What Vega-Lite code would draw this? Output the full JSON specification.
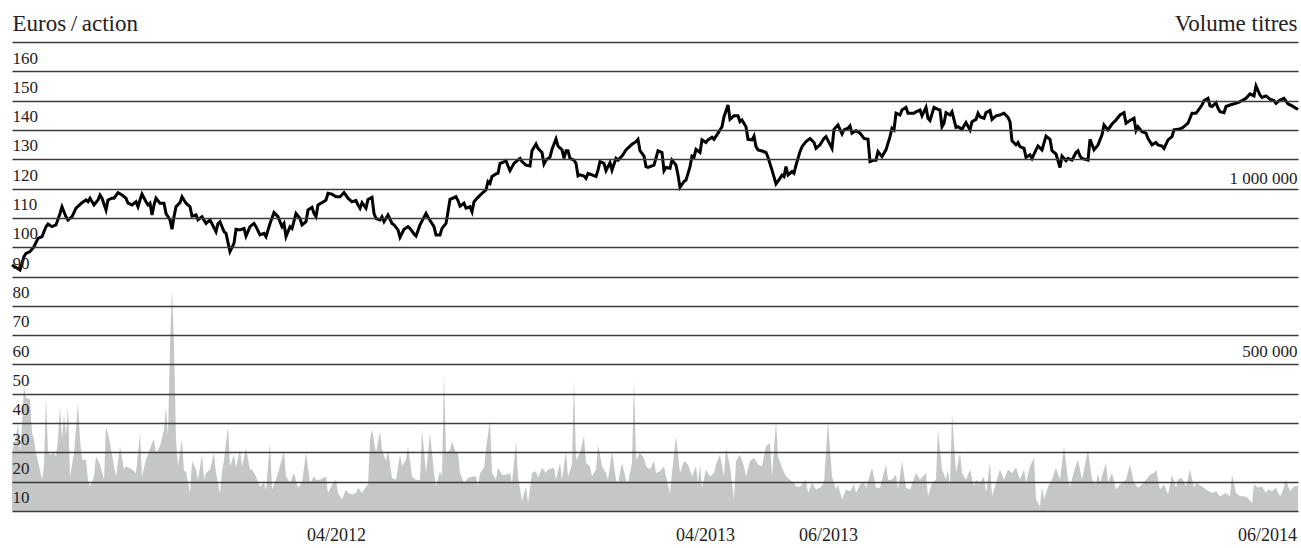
{
  "$schema": "https://vega.github.io/schema/vega-lite/v6.json",
  "width": 1286,
  "height": 469,
  "autosize": {"type": "none"},
  "padding": {"left": 12, "top": 42, "right": 3, "bottom": 37},
  "background": "white",
  "config": {"view": {"stroke": null}, "font": "Liberation Serif"},
  "datasets": {
    "cours": [
      {"jour":0,"cours":83.9},{"jour":4,"cours":82.2},{"jour":6,"cours":86.8},{"jour":7,"cours":87.9},{"jour":9,"cours":88.5},{"jour":11,"cours":90.2},{"jour":13,"cours":93},{"jour":15,"cours":93.6},{"jour":17,"cours":97},{"jour":18,"cours":97.9},{"jour":20,"cours":97},{"jour":22,"cours":97.6},{"jour":24,"cours":101.5},{"jour":25,"cours":103.8},{"jour":27,"cours":100.4},{"jour":28,"cours":99.3},{"jour":30,"cours":100.4},{"jour":32,"cours":103.3},{"jour":35,"cours":105.2},{"jour":37,"cours":106.1},{"jour":38,"cours":105.5},{"jour":39,"cours":106.7},{"jour":41,"cours":104.4},{"jour":43,"cours":106.1},{"jour":44,"cours":107.8},{"jour":45,"cours":106.7},{"jour":47,"cours":102.7},{"jour":48,"cours":106.1},{"jour":50,"cours":106.7},{"jour":51,"cours":106.7},{"jour":53,"cours":108.6},{"jour":55,"cours":107.8},{"jour":57,"cours":106.7},{"jour":58,"cours":105},{"jour":60,"cours":104.4},{"jour":62,"cours":105.5},{"jour":63,"cours":103.8},{"jour":64,"cours":106.1},{"jour":65,"cours":108.1},{"jour":67,"cours":105.5},{"jour":68,"cours":104.4},{"jour":69,"cours":105},{"jour":70,"cours":101},{"jour":71,"cours":104.4},{"jour":72,"cours":106.7},{"jour":74,"cours":105},{"jour":76,"cours":105},{"jour":77,"cours":101.5},{"jour":79,"cours":99.3},{"jour":80,"cours":96.1},{"jour":81,"cours":100.4},{"jour":82,"cours":103.8},{"jour":84,"cours":105.2},{"jour":85,"cours":107.2},{"jour":86,"cours":106.1},{"jour":87,"cours":105},{"jour":89,"cours":103.8},{"jour":90,"cours":100.6},{"jour":92,"cours":101},{"jour":93,"cours":99.3},{"jour":95,"cours":100.4},{"jour":97,"cours":98.1},{"jour":99,"cours":99.3},{"jour":102,"cours":95.3},{"jour":103,"cours":98.1},{"jour":104,"cours":98.7},{"jour":106,"cours":95.3},{"jour":107,"cours":94.7},{"jour":109,"cours":88.5},{"jour":111,"cours":91.3},{"jour":112,"cours":96.1},{"jour":114,"cours":95.9},{"jour":116,"cours":96.4},{"jour":117,"cours":93.8},{"jour":119,"cours":97},{"jour":121,"cours":98.1},{"jour":122,"cours":97},{"jour":124,"cours":94.2},{"jour":126,"cours":94.7},{"jour":127,"cours":93.6},{"jour":129,"cours":98.1},{"jour":131,"cours":101.8},{"jour":133,"cours":100.4},{"jour":135,"cours":97},{"jour":136,"cours":98.1},{"jour":137,"cours":93.6},{"jour":139,"cours":97},{"jour":140,"cours":96.4},{"jour":142,"cours":101.5},{"jour":144,"cours":99.8},{"jour":145,"cours":97.6},{"jour":147,"cours":98.7},{"jour":148,"cours":102.7},{"jour":150,"cours":103.6},{"jour":151,"cours":101.5},{"jour":152,"cours":100.4},{"jour":153,"cours":104.4},{"jour":155,"cours":105.2},{"jour":157,"cours":106.1},{"jour":158,"cours":108.4},{"jour":160,"cours":108.1},{"jour":162,"cours":107.2},{"jour":164,"cours":107.2},{"jour":166,"cours":108.6},{"jour":168,"cours":106.7},{"jour":170,"cours":105.5},{"jour":172,"cours":105.9},{"jour":173,"cours":104.4},{"jour":174,"cours":103.3},{"jour":175,"cours":105.2},{"jour":177,"cours":103.3},{"jour":178,"cours":106.3},{"jour":180,"cours":107},{"jour":181,"cours":101.5},{"jour":182,"cours":99.8},{"jour":184,"cours":99.3},{"jour":185,"cours":100.4},{"jour":186,"cours":98.7},{"jour":188,"cours":101},{"jour":190,"cours":98.1},{"jour":191,"cours":97.6},{"jour":193,"cours":95.9},{"jour":194,"cours":93.4},{"jour":196,"cours":96.1},{"jour":198,"cours":97},{"jour":199,"cours":96.4},{"jour":201,"cours":94.5},{"jour":202,"cours":93.8},{"jour":204,"cours":97.6},{"jour":207,"cours":101.5},{"jour":208,"cours":100.2},{"jour":210,"cours":98.1},{"jour":211,"cours":97},{"jour":212,"cours":94.2},{"jour":214,"cours":94.2},{"jour":215,"cours":96.4},{"jour":217,"cours":98.1},{"jour":218,"cours":102.1},{"jour":219,"cours":106.3},{"jour":222,"cours":107.2},{"jour":223,"cours":105.9},{"jour":224,"cours":104},{"jour":226,"cours":105},{"jour":227,"cours":103.3},{"jour":229,"cours":103.8},{"jour":230,"cours":102.1},{"jour":231,"cours":105.5},{"jour":233,"cours":107},{"jour":235,"cours":108.4},{"jour":237,"cours":109.5},{"jour":238,"cours":112.4},{"jour":239,"cours":111.8},{"jour":240,"cours":114.1},{"jour":242,"cours":115},{"jour":243,"cours":115.2},{"jour":244,"cours":118.6},{"jour":245,"cours":118.8},{"jour":247,"cours":119.5},{"jour":248,"cours":117.7},{"jour":249,"cours":116.1},{"jour":251,"cours":118.6},{"jour":252,"cours":119.2},{"jour":254,"cours":120.3},{"jour":255,"cours":119.2},{"jour":257,"cours":118},{"jour":259,"cours":117.7},{"jour":260,"cours":122.9},{"jour":262,"cours":125.2},{"jour":263,"cours":123.7},{"jour":265,"cours":122.3},{"jour":266,"cours":118.4},{"jour":267,"cours":119.7},{"jour":269,"cours":120.7},{"jour":270,"cours":123.4},{"jour":272,"cours":126.9},{"jour":273,"cours":124.5},{"jour":275,"cours":123.2},{"jour":276,"cours":120.3},{"jour":277,"cours":122.9},{"jour":278,"cours":122.9},{"jour":279,"cours":120.3},{"jour":281,"cours":119.7},{"jour":282,"cours":118.6},{"jour":283,"cours":114.3},{"jour":284,"cours":114.7},{"jour":286,"cours":114.3},{"jour":287,"cours":113.5},{"jour":288,"cours":115.2},{"jour":290,"cours":114.7},{"jour":292,"cours":114.1},{"jour":293,"cours":116.3},{"jour":294,"cours":119.2},{"jour":296,"cours":118.6},{"jour":297,"cours":116.1},{"jour":299,"cours":118.8},{"jour":300,"cours":116.3},{"jour":302,"cours":120.3},{"jour":303,"cours":119.7},{"jour":305,"cours":121.1},{"jour":307,"cours":123.2},{"jour":310,"cours":125.1},{"jour":312,"cours":126},{"jour":313,"cours":126.8},{"jour":314,"cours":122.9},{"jour":316,"cours":121.1},{"jour":317,"cours":117.5},{"jour":318,"cours":117.2},{"jour":321,"cours":118},{"jour":323,"cours":122.9},{"jour":325,"cours":122.3},{"jour":326,"cours":116.1},{"jour":327,"cours":117.2},{"jour":329,"cours":116.9},{"jour":330,"cours":119.7},{"jour":332,"cours":118},{"jour":333,"cours":114.6},{"jour":334,"cours":110.4},{"jour":336,"cours":112.4},{"jour":337,"cours":112.9},{"jour":339,"cours":117.5},{"jour":340,"cours":121.1},{"jour":341,"cours":120.7},{"jour":342,"cours":123.4},{"jour":344,"cours":122.3},{"jour":345,"cours":126.6},{"jour":347,"cours":125.7},{"jour":348,"cours":126.6},{"jour":350,"cours":127.5},{"jour":351,"cours":126.8},{"jour":353,"cours":128.9},{"jour":355,"cours":131.1},{"jour":356,"cours":134.5},{"jour":358,"cours":138.5},{"jour":359,"cours":133.6},{"jour":361,"cours":134.8},{"jour":363,"cours":134.8},{"jour":364,"cours":132.8},{"jour":365,"cours":133.4},{"jour":367,"cours":131.1},{"jour":368,"cours":126.8},{"jour":370,"cours":126.6},{"jour":371,"cours":127.9},{"jour":372,"cours":124.3},{"jour":373,"cours":123.2},{"jour":375,"cours":122.8},{"jour":377,"cours":122.3},{"jour":378,"cours":120.7},{"jour":380,"cours":116.3},{"jour":382,"cours":111.6},{"jour":384,"cours":113.5},{"jour":385,"cours":114.6},{"jour":386,"cours":114.1},{"jour":387,"cours":117.5},{"jour":388,"cours":114.6},{"jour":390,"cours":115.8},{"jour":391,"cours":115.2},{"jour":392,"cours":118},{"jour":394,"cours":122.6},{"jour":395,"cours":124.3},{"jour":397,"cours":126},{"jour":399,"cours":127.1},{"jour":401,"cours":125.7},{"jour":402,"cours":123.7},{"jour":404,"cours":124.9},{"jour":406,"cours":127.1},{"jour":407,"cours":127.7},{"jour":410,"cours":123.7},{"jour":411,"cours":130.2},{"jour":413,"cours":131.7},{"jour":415,"cours":128.6},{"jour":416,"cours":130},{"jour":418,"cours":130.6},{"jour":419,"cours":131.4},{"jour":420,"cours":128.9},{"jour":422,"cours":129.8},{"jour":424,"cours":128.9},{"jour":426,"cours":127.1},{"jour":428,"cours":126.8},{"jour":429,"cours":119.2},{"jour":431,"cours":119.7},{"jour":432,"cours":119.7},{"jour":433,"cours":122.6},{"jour":435,"cours":120.9},{"jour":437,"cours":123.2},{"jour":439,"cours":127.7},{"jour":440,"cours":130.6},{"jour":441,"cours":130},{"jour":442,"cours":135.7},{"jour":444,"cours":135.1},{"jour":445,"cours":136.8},{"jour":447,"cours":137.7},{"jour":448,"cours":135.7},{"jour":451,"cours":135.7},{"jour":452,"cours":136.2},{"jour":454,"cours":136.8},{"jour":455,"cours":134.8},{"jour":457,"cours":137.7},{"jour":458,"cours":134},{"jour":459,"cours":133.2},{"jour":461,"cours":137.7},{"jour":463,"cours":137},{"jour":464,"cours":136.8},{"jour":465,"cours":131.1},{"jour":466,"cours":132.3},{"jour":467,"cours":135.9},{"jour":469,"cours":135.1},{"jour":470,"cours":136.2},{"jour":472,"cours":130.9},{"jour":473,"cours":131.1},{"jour":475,"cours":130.2},{"jour":477,"cours":132.5},{"jour":479,"cours":130},{"jour":480,"cours":132.8},{"jour":482,"cours":133.6},{"jour":483,"cours":135.7},{"jour":484,"cours":134.5},{"jour":486,"cours":134},{"jour":487,"cours":135.9},{"jour":489,"cours":136.6},{"jour":490,"cours":133.6},{"jour":492,"cours":134.8},{"jour":494,"cours":135.1},{"jour":496,"cours":135.7},{"jour":498,"cours":134.3},{"jour":499,"cours":132.8},{"jour":500,"cours":126.3},{"jour":502,"cours":124.9},{"jour":503,"cours":125.7},{"jour":504,"cours":124.3},{"jour":506,"cours":123.7},{"jour":507,"cours":120.7},{"jour":509,"cours":121.5},{"jour":510,"cours":120.3},{"jour":512,"cours":123.2},{"jour":513,"cours":124.5},{"jour":515,"cours":123.2},{"jour":517,"cours":127.9},{"jour":519,"cours":126.8},{"jour":520,"cours":122.9},{"jour":522,"cours":121.8},{"jour":524,"cours":117.2},{"jour":525,"cours":121.1},{"jour":527,"cours":119.5},{"jour":528,"cours":120.3},{"jour":530,"cours":119.7},{"jour":532,"cours":122.3},{"jour":533,"cours":122.9},{"jour":534,"cours":121.1},{"jour":535,"cours":120.3},{"jour":538,"cours":119.7},{"jour":539,"cours":126.8},{"jour":541,"cours":123.2},{"jour":543,"cours":124.9},{"jour":545,"cours":128.3},{"jour":546,"cours":131.7},{"jour":548,"cours":130},{"jour":550,"cours":132},{"jour":552,"cours":133.4},{"jour":554,"cours":135.1},{"jour":556,"cours":135.9},{"jour":557,"cours":132.3},{"jour":559,"cours":133.2},{"jour":561,"cours":134},{"jour":562,"cours":129.8},{"jour":563,"cours":131.1},{"jour":565,"cours":129.4},{"jour":567,"cours":128.9},{"jour":568,"cours":127.1},{"jour":570,"cours":124.9},{"jour":572,"cours":125.7},{"jour":573,"cours":124.9},{"jour":575,"cours":124.5},{"jour":576,"cours":123.7},{"jour":578,"cours":126.6},{"jour":580,"cours":127.7},{"jour":581,"cours":130},{"jour":583,"cours":130.2},{"jour":585,"cours":130.6},{"jour":587,"cours":131.7},{"jour":588,"cours":132.3},{"jour":590,"cours":135.7},{"jour":592,"cours":135.7},{"jour":593,"cours":136.6},{"jour":595,"cours":138.5},{"jour":596,"cours":140},{"jour":598,"cours":140.8},{"jour":599,"cours":138.2},{"jour":600,"cours":138},{"jour":602,"cours":139.3},{"jour":603,"cours":137.4},{"jour":604,"cours":136.2},{"jour":606,"cours":135.9},{"jour":607,"cours":138},{"jour":609,"cours":138.5},{"jour":611,"cours":138.9},{"jour":613,"cours":139.3},{"jour":615,"cours":140},{"jour":617,"cours":140.8},{"jour":619,"cours":142.3},{"jour":621,"cours":141.6},{"jour":622,"cours":145},{"jour":624,"cours":141.9},{"jour":625,"cours":141.1},{"jour":627,"cours":141.6},{"jour":629,"cours":140.5},{"jour":631,"cours":140},{"jour":632,"cours":139.1},{"jour":634,"cours":140.2},{"jour":636,"cours":140.8},{"jour":638,"cours":138.9},{"jour":640,"cours":138.2},{"jour":643,"cours":137}
    ],
    "volume": [
      {"jour":0,"volume":165000},{"jour":2,"volume":213000},{"jour":3,"volume":250000},{"jour":4,"volume":165000},{"jour":5,"volume":246000},{"jour":6,"volume":354000},{"jour":7,"volume":322000},{"jour":9,"volume":317000},{"jour":10,"volume":222000},{"jour":11,"volume":203000},{"jour":12,"volume":165000},{"jour":13,"volume":142000},{"jour":15,"volume":89000},{"jour":16,"volume":127000},{"jour":17,"volume":326000},{"jour":18,"volume":165000},{"jour":19,"volume":160000},{"jour":21,"volume":165000},{"jour":22,"volume":156000},{"jour":23,"volume":203000},{"jour":24,"volume":298000},{"jour":25,"volume":203000},{"jour":26,"volume":278000},{"jour":27,"volume":213000},{"jour":28,"volume":298000},{"jour":29,"volume":98000},{"jour":31,"volume":165000},{"jour":33,"volume":308000},{"jour":34,"volume":203000},{"jour":35,"volume":146000},{"jour":37,"volume":146000},{"jour":38,"volume":89000},{"jour":39,"volume":70000},{"jour":41,"volume":98000},{"jour":42,"volume":156000},{"jour":44,"volume":132000},{"jour":46,"volume":89000},{"jour":47,"volume":241000},{"jour":49,"volume":193000},{"jour":51,"volume":127000},{"jour":52,"volume":98000},{"jour":54,"volume":184000},{"jour":56,"volume":118000},{"jour":57,"volume":127000},{"jour":60,"volume":118000},{"jour":62,"volume":108000},{"jour":64,"volume":222000},{"jour":65,"volume":98000},{"jour":67,"volume":146000},{"jour":70,"volume":193000},{"jour":71,"volume":203000},{"jour":72,"volume":165000},{"jour":74,"volume":184000},{"jour":76,"volume":232000},{"jour":77,"volume":294000},{"jour":78,"volume":213000},{"jour":79,"volume":478000},{"jour":80,"volume":629000},{"jour":81,"volume":478000},{"jour":82,"volume":203000},{"jour":83,"volume":127000},{"jour":85,"volume":203000},{"jour":86,"volume":113000},{"jour":87,"volume":113000},{"jour":89,"volume":51000},{"jour":90,"volume":142000},{"jour":92,"volume":118000},{"jour":93,"volume":89000},{"jour":95,"volume":160000},{"jour":96,"volume":89000},{"jour":97,"volume":108000},{"jour":99,"volume":118000},{"jour":101,"volume":165000},{"jour":102,"volume":108000},{"jour":104,"volume":51000},{"jour":105,"volume":108000},{"jour":106,"volume":146000},{"jour":108,"volume":241000},{"jour":109,"volume":127000},{"jour":111,"volume":160000},{"jour":112,"volume":123000},{"jour":114,"volume":174000},{"jour":115,"volume":127000},{"jour":117,"volume":179000},{"jour":119,"volume":118000},{"jour":120,"volume":118000},{"jour":122,"volume":98000},{"jour":124,"volume":70000},{"jour":126,"volume":80000},{"jour":127,"volume":61000},{"jour":129,"volume":193000},{"jour":130,"volume":61000},{"jour":132,"volume":89000},{"jour":133,"volume":108000},{"jour":136,"volume":170000},{"jour":137,"volume":98000},{"jour":139,"volume":80000},{"jour":141,"volume":108000},{"jour":143,"volume":66000},{"jour":145,"volume":80000},{"jour":147,"volume":165000},{"jour":149,"volume":80000},{"jour":151,"volume":98000},{"jour":152,"volume":89000},{"jour":154,"volume":89000},{"jour":157,"volume":98000},{"jour":158,"volume":51000},{"jour":160,"volume":75000},{"jour":162,"volume":89000},{"jour":163,"volume":51000},{"jour":165,"volume":33000},{"jour":167,"volume":61000},{"jour":168,"volume":51000},{"jour":170,"volume":47000},{"jour":172,"volume":51000},{"jour":173,"volume":66000},{"jour":175,"volume":51000},{"jour":177,"volume":70000},{"jour":178,"volume":75000},{"jour":179,"volume":203000},{"jour":180,"volume":232000},{"jour":182,"volume":165000},{"jour":184,"volume":227000},{"jour":185,"volume":174000},{"jour":187,"volume":142000},{"jour":188,"volume":174000},{"jour":190,"volume":94000},{"jour":192,"volume":89000},{"jour":194,"volume":160000},{"jour":195,"volume":127000},{"jour":197,"volume":146000},{"jour":198,"volume":184000},{"jour":200,"volume":98000},{"jour":202,"volume":89000},{"jour":204,"volume":89000},{"jour":205,"volume":232000},{"jour":207,"volume":108000},{"jour":209,"volume":222000},{"jour":211,"volume":108000},{"jour":212,"volume":70000},{"jour":214,"volume":113000},{"jour":215,"volume":98000},{"jour":216,"volume":388000},{"jour":217,"volume":165000},{"jour":219,"volume":174000},{"jour":220,"volume":198000},{"jour":222,"volume":165000},{"jour":223,"volume":165000},{"jour":224,"volume":108000},{"jour":226,"volume":80000},{"jour":228,"volume":94000},{"jour":230,"volume":98000},{"jour":232,"volume":98000},{"jour":233,"volume":70000},{"jour":234,"volume":108000},{"jour":236,"volume":123000},{"jour":237,"volume":174000},{"jour":239,"volume":260000},{"jour":240,"volume":108000},{"jour":242,"volume":89000},{"jour":243,"volume":123000},{"jour":245,"volume":103000},{"jour":247,"volume":103000},{"jour":249,"volume":108000},{"jour":250,"volume":80000},{"jour":252,"volume":198000},{"jour":253,"volume":98000},{"jour":255,"volume":28000},{"jour":257,"volume":70000},{"jour":258,"volume":23000},{"jour":260,"volume":108000},{"jour":262,"volume":113000},{"jour":263,"volume":94000},{"jour":265,"volume":123000},{"jour":267,"volume":108000},{"jour":268,"volume":118000},{"jour":271,"volume":123000},{"jour":272,"volume":89000},{"jour":274,"volume":137000},{"jour":275,"volume":89000},{"jour":277,"volume":170000},{"jour":278,"volume":98000},{"jour":280,"volume":132000},{"jour":281,"volume":378000},{"jour":282,"volume":146000},{"jour":284,"volume":165000},{"jour":286,"volume":213000},{"jour":287,"volume":137000},{"jour":289,"volume":127000},{"jour":290,"volume":98000},{"jour":292,"volume":118000},{"jour":293,"volume":188000},{"jour":295,"volume":127000},{"jour":297,"volume":108000},{"jour":298,"volume":89000},{"jour":300,"volume":170000},{"jour":302,"volume":89000},{"jour":303,"volume":80000},{"jour":305,"volume":137000},{"jour":307,"volume":89000},{"jour":308,"volume":80000},{"jour":310,"volume":137000},{"jour":311,"volume":373000},{"jour":312,"volume":146000},{"jour":314,"volume":165000},{"jour":316,"volume":151000},{"jour":317,"volume":127000},{"jour":319,"volume":118000},{"jour":321,"volume":142000},{"jour":322,"volume":108000},{"jour":324,"volume":113000},{"jour":326,"volume":127000},{"jour":327,"volume":98000},{"jour":329,"volume":51000},{"jour":330,"volume":108000},{"jour":332,"volume":213000},{"jour":334,"volume":108000},{"jour":336,"volume":142000},{"jour":338,"volume":132000},{"jour":340,"volume":98000},{"jour":342,"volume":127000},{"jour":343,"volume":80000},{"jour":344,"volume":132000},{"jour":345,"volume":66000},{"jour":347,"volume":118000},{"jour":349,"volume":98000},{"jour":351,"volume":108000},{"jour":352,"volume":132000},{"jour":354,"volume":160000},{"jour":356,"volume":98000},{"jour":357,"volume":179000},{"jour":359,"volume":127000},{"jour":361,"volume":33000},{"jour":362,"volume":142000},{"jour":364,"volume":160000},{"jour":366,"volume":127000},{"jour":367,"volume":98000},{"jour":369,"volume":142000},{"jour":371,"volume":151000},{"jour":373,"volume":132000},{"jour":375,"volume":127000},{"jour":377,"volume":184000},{"jour":379,"volume":193000},{"jour":380,"volume":98000},{"jour":382,"volume":255000},{"jour":383,"volume":156000},{"jour":385,"volume":123000},{"jour":387,"volume":98000},{"jour":389,"volume":89000},{"jour":391,"volume":80000},{"jour":392,"volume":70000},{"jour":394,"volume":70000},{"jour":397,"volume":89000},{"jour":398,"volume":51000},{"jour":400,"volume":80000},{"jour":402,"volume":61000},{"jour":404,"volume":66000},{"jour":406,"volume":80000},{"jour":408,"volume":255000},{"jour":410,"volume":98000},{"jour":412,"volume":61000},{"jour":413,"volume":75000},{"jour":415,"volume":33000},{"jour":417,"volume":61000},{"jour":419,"volume":56000},{"jour":421,"volume":75000},{"jour":422,"volume":51000},{"jour":424,"volume":75000},{"jour":426,"volume":80000},{"jour":427,"volume":66000},{"jour":430,"volume":123000},{"jour":432,"volume":66000},{"jour":434,"volume":66000},{"jour":437,"volume":132000},{"jour":438,"volume":89000},{"jour":440,"volume":89000},{"jour":442,"volume":103000},{"jour":443,"volume":61000},{"jour":445,"volume":142000},{"jour":447,"volume":66000},{"jour":449,"volume":61000},{"jour":452,"volume":108000},{"jour":454,"volume":89000},{"jour":457,"volume":108000},{"jour":458,"volume":42000},{"jour":460,"volume":80000},{"jour":462,"volume":89000},{"jour":463,"volume":232000},{"jour":465,"volume":118000},{"jour":467,"volume":89000},{"jour":468,"volume":118000},{"jour":469,"volume":70000},{"jour":470,"volume":278000},{"jour":472,"volume":108000},{"jour":474,"volume":165000},{"jour":475,"volume":108000},{"jour":477,"volume":89000},{"jour":479,"volume":118000},{"jour":481,"volume":70000},{"jour":482,"volume":89000},{"jour":484,"volume":80000},{"jour":486,"volume":98000},{"jour":487,"volume":51000},{"jour":489,"volume":137000},{"jour":490,"volume":42000},{"jour":492,"volume":80000},{"jour":494,"volume":118000},{"jour":496,"volume":89000},{"jour":498,"volume":118000},{"jour":500,"volume":108000},{"jour":502,"volume":123000},{"jour":504,"volume":89000},{"jour":506,"volume":118000},{"jour":507,"volume":80000},{"jour":509,"volume":127000},{"jour":511,"volume":151000},{"jour":512,"volume":33000},{"jour":514,"volume":13000},{"jour":515,"volume":70000},{"jour":516,"volume":33000},{"jour":518,"volume":70000},{"jour":520,"volume":89000},{"jour":522,"volume":123000},{"jour":524,"volume":89000},{"jour":526,"volume":184000},{"jour":528,"volume":89000},{"jour":529,"volume":70000},{"jour":531,"volume":113000},{"jour":533,"volume":146000},{"jour":535,"volume":89000},{"jour":538,"volume":174000},{"jour":540,"volume":89000},{"jour":542,"volume":75000},{"jour":543,"volume":108000},{"jour":544,"volume":80000},{"jour":547,"volume":137000},{"jour":548,"volume":80000},{"jour":550,"volume":108000},{"jour":552,"volume":61000},{"jour":554,"volume":75000},{"jour":557,"volume":89000},{"jour":559,"volume":132000},{"jour":561,"volume":80000},{"jour":563,"volume":66000},{"jour":565,"volume":75000},{"jour":567,"volume":89000},{"jour":569,"volume":103000},{"jour":571,"volume":108000},{"jour":572,"volume":118000},{"jour":574,"volume":61000},{"jour":576,"volume":75000},{"jour":578,"volume":47000},{"jour":580,"volume":103000},{"jour":582,"volume":66000},{"jour":583,"volume":89000},{"jour":585,"volume":94000},{"jour":587,"volume":70000},{"jour":589,"volume":118000},{"jour":591,"volume":66000},{"jour":592,"volume":80000},{"jour":595,"volume":70000},{"jour":597,"volume":61000},{"jour":600,"volume":51000},{"jour":602,"volume":56000},{"jour":604,"volume":42000},{"jour":607,"volume":51000},{"jour":609,"volume":42000},{"jour":610,"volume":103000},{"jour":612,"volume":51000},{"jour":614,"volume":42000},{"jour":616,"volume":42000},{"jour":618,"volume":37000},{"jour":620,"volume":23000},{"jour":621,"volume":75000},{"jour":623,"volume":66000},{"jour":625,"volume":70000},{"jour":627,"volume":51000},{"jour":628,"volume":61000},{"jour":630,"volume":56000},{"jour":632,"volume":66000},{"jour":634,"volume":42000},{"jour":635,"volume":51000},{"jour":637,"volume":89000},{"jour":639,"volume":56000},{"jour":641,"volume":70000},{"jour":642,"volume":72000},{"jour":643,"volume":72000}
    ]
  },
  "encoding": {
    "x": {
      "field": "jour", "type": "quantitative",
      "scale": {"domain": [0, 643], "nice": false, "zero": false},
      "axis": {
        "values": [162, 346.5, 408, 627.5],
        "labelExpr": "datum.value == 162 ? '04/2012' : datum.value == 346.5 ? '04/2013' : datum.value == 408 ? '06/2013' : '06/2014'",
        "grid": false, "domain": false, "ticks": false, "tickSize": 0,
        "labelFontSize": 18, "labelColor": "#222", "labelBaseline": "alphabetic",
        "labelPadding": 29, "labelAlign": "center", "labelFlush": false, "labelOverlap": false, "labelBound": false,
        "title": null
      }
    }
  },
  "layer": [
    {
      "data": {"name": "volume"},
      "mark": {"type": "area", "color": "#c5c6c6", "interpolate": "linear"},
      "encoding": {
        "y": {
          "field": "volume", "type": "quantitative",
          "scale": {"domain": [0, 1333333.33], "nice": false, "zero": true},
          "axis": {
            "orient": "right",
            "values": [500000, 1000000],
            "labelExpr": "datum.value == 1000000 ? '1 000 000' : '500 000'",
            "grid": false, "domain": false, "ticks": false, "tickSize": 0,
            "labelAlign": "right", "labelBaseline": "alphabetic", "labelPadding": -1,
            "labelOffset": {"condition": {"test": "datum.value == 1000000", "value": 24}, "value": 21},
            "labelFontSize": 17, "labelColor": "#222", "labelFlush": false, "labelOverlap": false,
            "title": "Volume titres", "titleAngle": 0, "titleAlign": "right", "titleBaseline": "alphabetic",
            "titleX": -1, "titleY": -12, "titleFontSize": 23, "titleFontWeight": "normal", "titleColor": "#222"
          }
        }
      }
    },
    {
      "data": {"name": "cours"},
      "mark": {"type": "line", "color": "#000000", "strokeWidth": 3},
      "encoding": {
        "y": {
          "field": "cours", "type": "quantitative",
          "scale": {"domain": [0, 160], "nice": false, "zero": true},
          "axis": {
            "orient": "left",
            "values": [0, 10, 20, 30, 40, 50, 60, 70, 80, 90, 100, 110, 120, 130, 140, 150, 160],
            "labelExpr": "datum.value == 0 ? '' : datum.label",
            "grid": true, "gridColor": "#3c3c3c", "gridWidth": 1.5,
            "domain": false, "ticks": false, "tickSize": 0,
            "labelAlign": "left", "labelBaseline": "alphabetic", "labelPadding": 0, "labelOffset": 21,
            "labelFontSize": 17, "labelColor": "#222", "labelFlush": false, "labelOverlap": false,
            "title": "Euros\u2009/\u2009action", "titleAngle": 0, "titleAlign": "left", "titleBaseline": "alphabetic",
            "titleX": 0, "titleY": -12, "titleFontSize": 23, "titleFontWeight": "normal", "titleColor": "#222",
            "zindex": 1
          }
        }
      }
    }
  ],
  "resolve": {"scale": {"y": "independent"}}
}
